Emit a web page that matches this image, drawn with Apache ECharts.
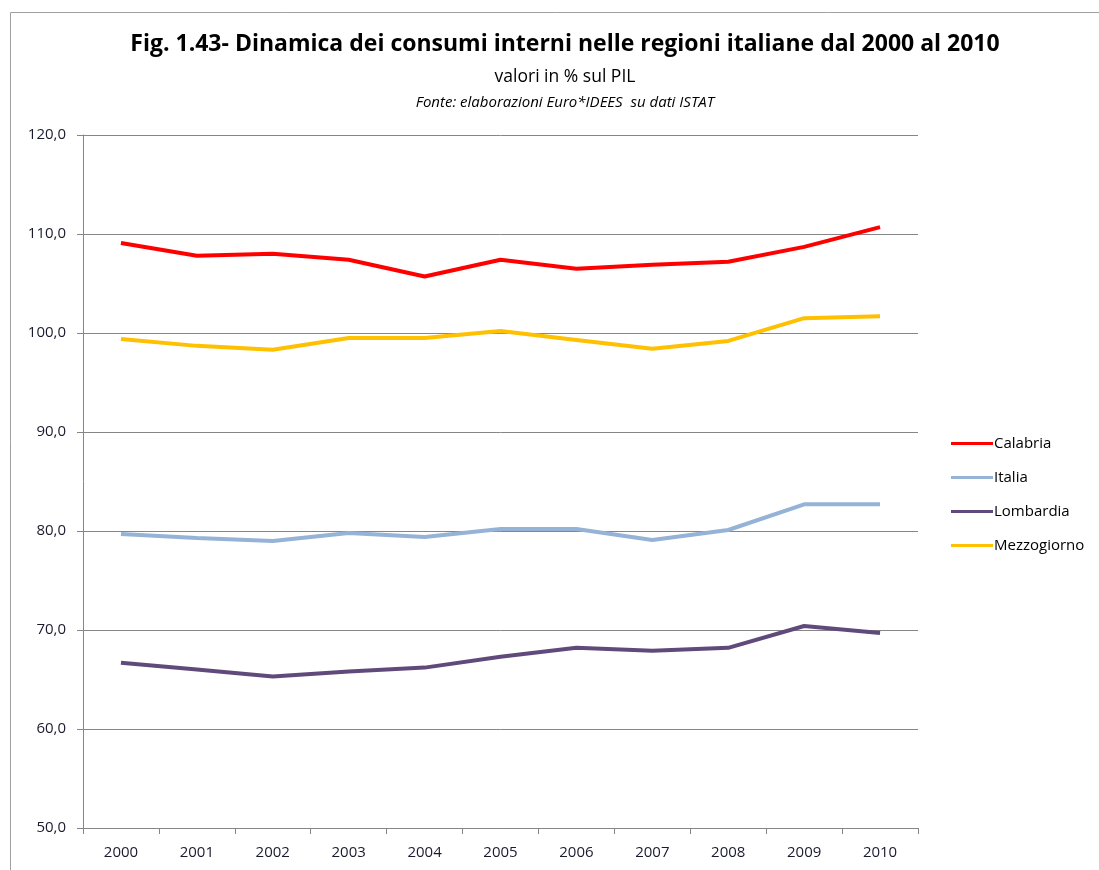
<!DOCTYPE html>
<html><head><meta charset="utf-8">
<script src="https://cdn.jsdelivr.net/npm/echarts@6/dist/echarts.min.js"></script>
<style>html,body{margin:0;padding:0;background:#fff}#c{width:1099px;height:870px}</style>
</head><body><div id="c"></div>
<script>
const years = ['2000','2001','2002','2003','2004','2005','2006','2007','2008','2009','2010'];
const calabria = [109.1,107.8,108.0,107.4,105.7,107.4,106.5,106.9,107.2,108.7,110.7];
const italia = [79.7,79.3,79.0,79.8,79.4,80.2,80.2,79.1,80.1,82.7,82.7];
const lombardia = [66.7,66.0,65.3,65.8,66.2,67.3,68.2,67.9,68.2,70.4,69.7];
const mezzogiorno = [99.4,98.7,98.3,99.5,99.5,100.2,99.3,98.4,99.2,101.5,101.7];
const seriesNames = ['Calabria','Italia','Lombardia','Mezzogiorno'];
const colors = ['#ff0000','#95b3d7','#604a7b','#ffc000'];
const font = '"Open Sans", Lato, sans-serif';
const chart = echarts.init(document.getElementById('c'), null, {renderer:'canvas'});
const mk = (name, data, i) => ({
  name, type:'line', data, symbol:'none', smooth:false,
  lineStyle:{width:4, color:colors[i]}, itemStyle:{color:colors[i]}
});
chart.setOption({
  animation:false,
  backgroundColor:'#fff',
  graphic:[{type:'rect', shape:{x:10.5,y:12.5,width:1200,height:1000}, style:{fill:'none', stroke:'#a0a0a0', lineWidth:1}, silent:true}],
  title:[
    {text:'Fig. 1.43- Dinamica dei consumi interni nelle regioni italiane dal 2000 al 2010', left:560, textAlign:'center', top:28,
     textStyle:{fontFamily:font, fontWeight:'bold', fontSize:23, color:'#000'}},
    {text:'valori in % sul PIL', left:560, textAlign:'center', top:63,
     textStyle:{fontFamily:font, fontWeight:'normal', fontSize:17.5, color:'#000'}},
    {text:'Fonte: elaborazioni Euro*IDEES  su dati ISTAT', left:560, textAlign:'center', top:90,
     textStyle:{fontFamily:font, fontWeight:'normal', fontStyle:'italic', fontSize:15, color:'#000'}}
  ],
  legend:{
    orient:'vertical', left:946, top:431, itemGap:19, itemWidth:42, itemHeight:16,
    icon:'path://M0,6 L42,6 L42,9 L0,9 Z',
    data:seriesNames,
    textStyle:{fontFamily:font, fontSize:15, color:'#000', padding:[0,0,0,-4]}
  },
  grid:{left:83, right:181, top:135, bottom:42, containLabel:false},
  xAxis:{
    type:'category', data:years, boundaryGap:true,
    axisLine:{lineStyle:{color:'#868686', width:1}},
    axisTick:{show:true, length:6, lineStyle:{color:'#868686'}},
    axisLabel:{fontFamily:font, fontSize:15, color:'#1a1a2e', margin:17}
  },
  yAxis:{
    type:'value', min:50, max:120, interval:10,
    axisLine:{show:true, lineStyle:{color:'#868686', width:1}},
    axisTick:{show:true, length:6, lineStyle:{color:'#868686'}},
    splitLine:{lineStyle:{color:'#868686', width:1}},
    axisLabel:{fontFamily:font, fontSize:15, color:'#1a1a2e', margin:17,
      formatter:v => v.toFixed(1).replace('.', ',')}
  },
  series:[mk('Calabria',calabria,0), mk('Italia',italia,1), mk('Lombardia',lombardia,2), mk('Mezzogiorno',mezzogiorno,3)]
});
</script></body></html>
